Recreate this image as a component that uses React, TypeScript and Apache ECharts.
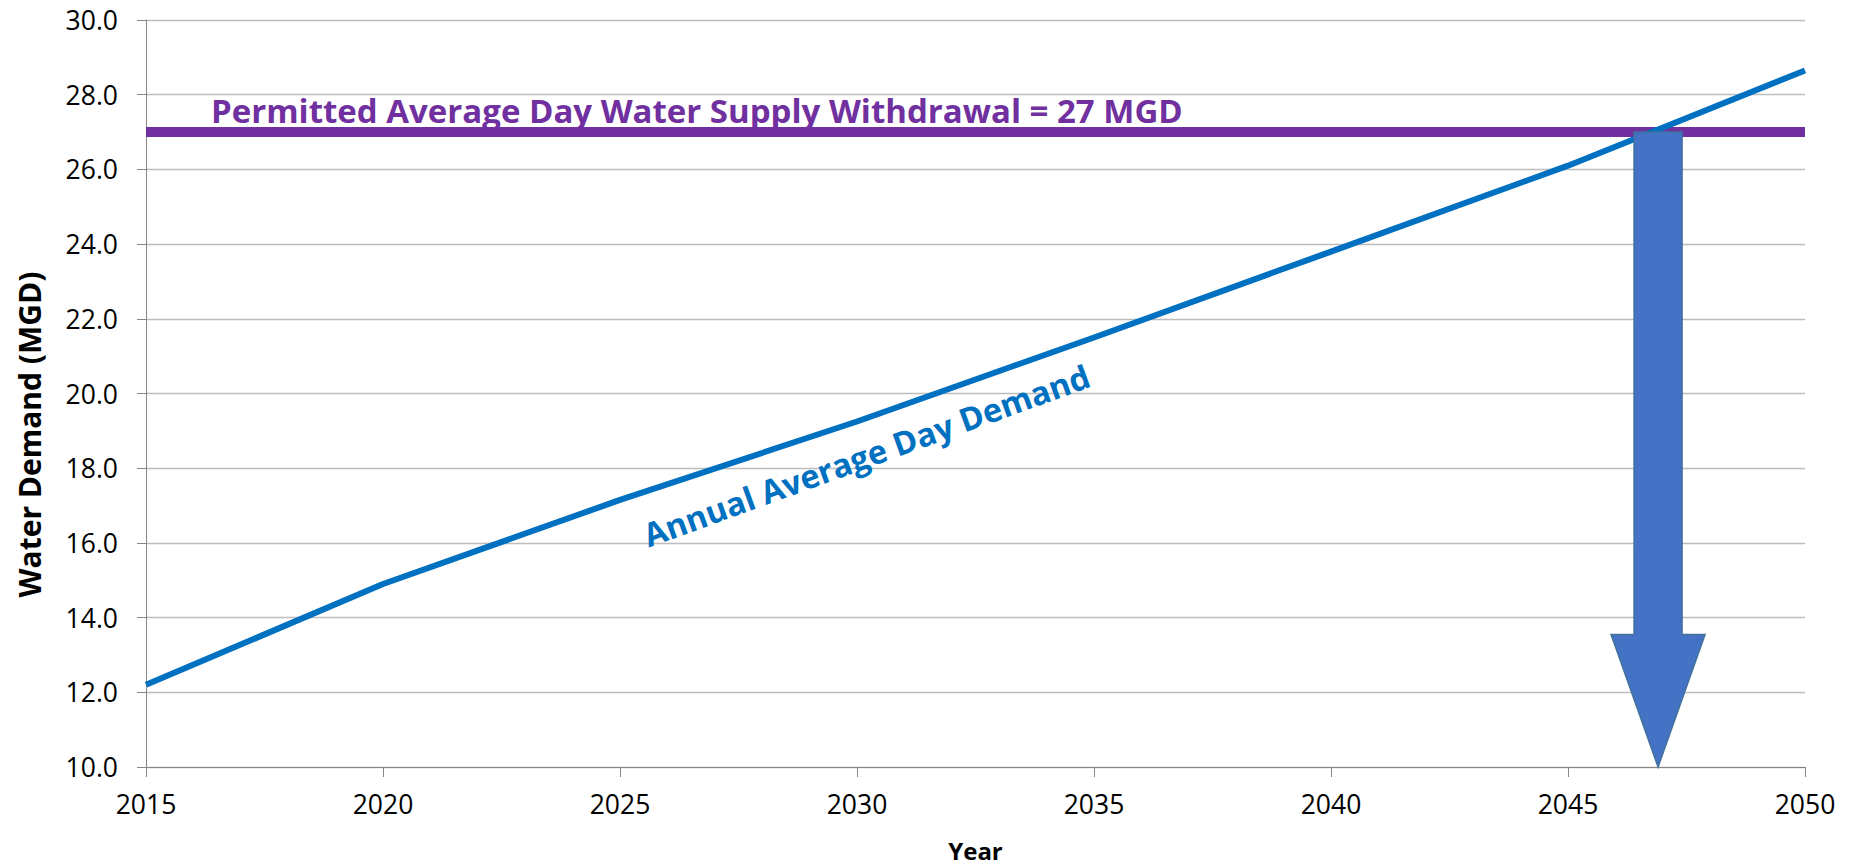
import React, { useEffect, useRef } from "react";
import * as echarts from "echarts";

const years = [2015, 2020, 2025, 2030, 2035, 2040, 2045, 2050];
const demand = [12.2, 14.9, 17.15, 19.25, 21.5, 23.8, 26.1, 28.65];
const permitValue = 27;
const permitLabel = "Permitted Average Day Water Supply Withdrawal = 27 MGD";
const demandLabel = "Annual Average Day Demand";
const demandLabelAt = [2030.2, 18.35];
// arrow: [year, top value, head start value, tip value]
const arrowData = [[2046.9, 27, 13.55, 10]];

const FONT = "'Open Sans', 'DejaVu Sans', sans-serif";

export default function App() {
  const ref = useRef<HTMLDivElement>(null);
  useEffect(() => {
    document.body.style.margin = "0";
    const chart = echarts.init(ref.current!, null, { renderer: "svg" });
    chart.setOption({
      animation: false,
      backgroundColor: "#ffffff",
      textStyle: { fontFamily: FONT },
      grid: { left: 146, right: 55, top: 20, bottom: 97, containLabel: false },
      xAxis: {
        type: "value",
        min: 2015,
        max: 2050,
        interval: 5,
        name: "Year",
        nameLocation: "middle",
        nameGap: 71,
        nameTextStyle: { fontFamily: FONT, fontWeight: "bold", fontSize: 24, color: "#000" },
        axisLine: { show: true, lineStyle: { color: "#868686", width: 1 } },
        axisTick: { show: true, length: 10, lineStyle: { color: "#868686" } },
        axisLabel: { fontFamily: FONT, fontSize: 26.5, color: "#000", margin: 23, formatter: (v: number) => String(v) },
        splitLine: { show: false },
      },
      yAxis: {
        type: "value",
        min: 10,
        max: 30,
        interval: 2,
        name: "Water Demand (MGD)",
        nameLocation: "middle",
        nameGap: 102,
        nameTextStyle: {
          fontFamily: FONT,
          fontWeight: "bold",
          fontSize: 30,
          color: "#000",
          padding: [0, 82, 0, 0],
        },
        axisLine: { show: true, lineStyle: { color: "#868686", width: 1 } },
        axisTick: { show: true, length: 9, lineStyle: { color: "#868686" } },
        axisLabel: { fontFamily: FONT, fontSize: 26.5, color: "#000", margin: 28, formatter: (v: number) => v.toFixed(1) },
        splitLine: { show: true, lineStyle: { color: "#BDBDBD", width: 1.3 } },
      },
      series: [
        {
          type: "line",
          name: "Demand",
          data: years.map((y, i) => [y, demand[i]]),
          showSymbol: false,
          symbol: "none",
          lineStyle: { color: "#0070C0", width: 6 },
          z: 3,
          markLine: {
            silent: true,
            symbol: "none",
            data: [{ yAxis: permitValue }],
            lineStyle: { color: "#7030A0", width: 10, type: "solid" },
            label: {
              show: true,
              position: "insideStartTop",
              distance: [65, 5],
              formatter: permitLabel,
              color: "#7030A0",
              fontFamily: FONT,
              fontWeight: "bold",
              fontSize: 33,
            },
            z: 2,
          },
          markPoint: {
            silent: true,
            symbol: "circle",
            symbolSize: 1,
            itemStyle: { color: "rgba(0,0,0,0)" },
            data: [{ coord: demandLabelAt }],
            label: {
              show: true,
              position: "inside",
              formatter: demandLabel,
              rotate: 20,
              color: "#0070C0",
              fontFamily: FONT,
              fontWeight: "bold",
              fontSize: 32.5,
            },
          },
        },
        {
          type: "custom",
          name: "Arrow",
          data: arrowData,
          z: 5,
          renderItem: (params: any, api: any) => {
            const x = api.value(0);
            const top = api.coord([x, api.value(1)]);
            const headTop = api.coord([x, api.value(2)]);
            const tip = api.coord([x, api.value(3)]);
            const cx = top[0];
            const sh = 24;
            const hh = 47;
            return {
              type: "polygon",
              shape: {
                points: [
                  [cx - sh, top[1]],
                  [cx + sh, top[1]],
                  [cx + sh, headTop[1]],
                  [cx + hh, headTop[1]],
                  [cx, tip[1]],
                  [cx - hh, headTop[1]],
                  [cx - sh, headTop[1]],
                ],
              },
              style: { fill: "#4472C4", stroke: "#41719C", lineWidth: 1.5 },
            };
          },
        },
      ],
    });
    return () => chart.dispose();
  }, []);
  return <div ref={ref} style={{ width: 1860, height: 867 }} />;
}
